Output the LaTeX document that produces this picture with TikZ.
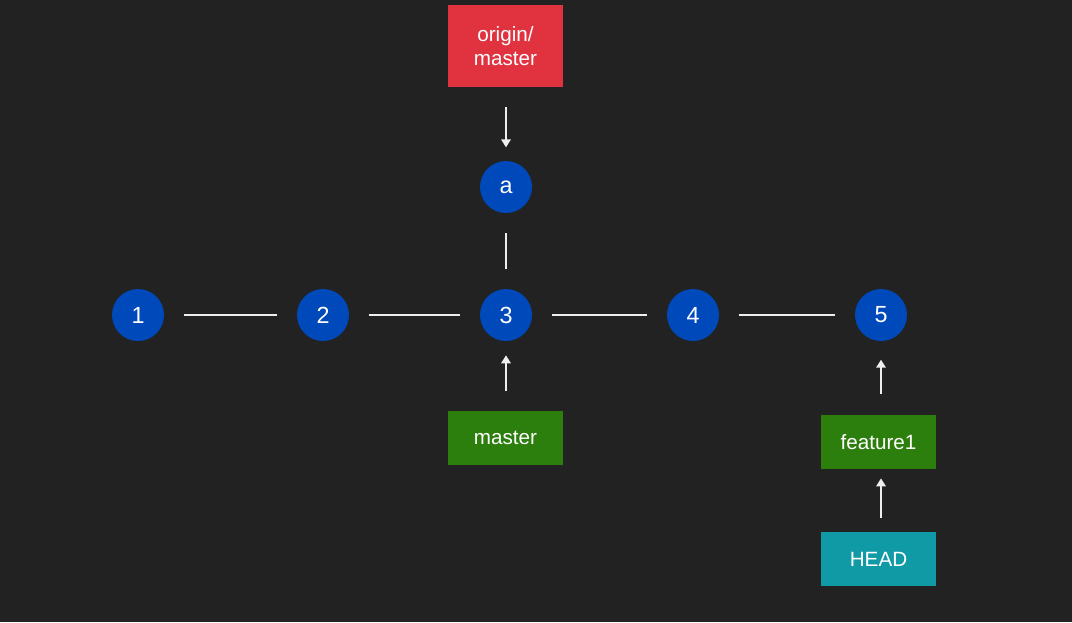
\documentclass[tikz,border=0pt]{standalone}
\usepackage{fontspec}
\setmainfont{Liberation Sans}
\usetikzlibrary{arrows.meta}
\definecolor{bg}{HTML}{222222}
\definecolor{cblue}{HTML}{0049BA}
\definecolor{cred}{HTML}{E0323F}
\definecolor{cgreen}{HTML}{2C7E0D}
\definecolor{cteal}{HTML}{0F9AA6}
\definecolor{cline}{HTML}{EEEEEE}
\begin{document}
\begin{tikzpicture}[x=0.75pt,y=-0.75pt,
  commit/.style={circle,fill=cblue,minimum size=39pt,inner sep=0pt,text=white,font=\fontsize{17.5}{17.5}\selectfont},
  refbox/.style={rectangle,minimum width=86pt,minimum height=40.5pt,inner sep=0pt,text=white,font=\fontsize{15.5}{18.5}\selectfont,align=center},
  link/.style={draw=cline,line width=2.2pt,shorten >=14.5pt,shorten <=14.5pt},
  ptr/.style={draw=cline,line width=2.2pt,-{Triangle[width=7pt,length=6pt]}}]
\fill[bg] (0,0) rectangle (1072,622);
\useasboundingbox (0,0) rectangle (1072,622);
\node[commit] (c1) at (138,315) {1};
\node[commit] (c2) at (323,315) {2};
\node[commit] (c3) at (506,315) {3};
\node[commit] (c4) at (693,315) {4};
\node[commit] (c5) at (881,315) {5};
\node[commit] (ca) at (506,187) {a};
\node[refbox,fill=cred,minimum height=61.5pt] (om) at (505.5,46) {origin/\\master};
\node[refbox,fill=cgreen] (ms) at (505.5,438) {master};
\node[refbox,fill=cgreen] (f1) at (878.5,442) {feature1};
\node[refbox,fill=cteal] (hd) at (878.5,559) {HEAD};
\draw[link] (c1) -- (c2);
\draw[link] (c2) -- (c3);
\draw[link] (c3) -- (c4);
\draw[link] (c4) -- (c5);
\draw[link] (c3) -- (ca);
\coordinate (omb) at (506,87);
\coordinate (msb) at (506,411);
\coordinate (f1b) at (881,415);
\coordinate (f1s) at (881,469);
\coordinate (hdb) at (881,532);
\coordinate (c5b) at (881,341);
\draw[ptr,shorten <=15pt,shorten >=10pt] (omb) -- (ca);
\draw[ptr,shorten <=15pt,shorten >=10.5pt] (msb) -- (c3);
\draw[ptr,shorten <=16pt,shorten >=14pt] (f1b) -- (c5b);
\draw[ptr,shorten <=10.5pt,shorten >=7pt] (hdb) -- (f1s);
\end{tikzpicture}
\end{document}
